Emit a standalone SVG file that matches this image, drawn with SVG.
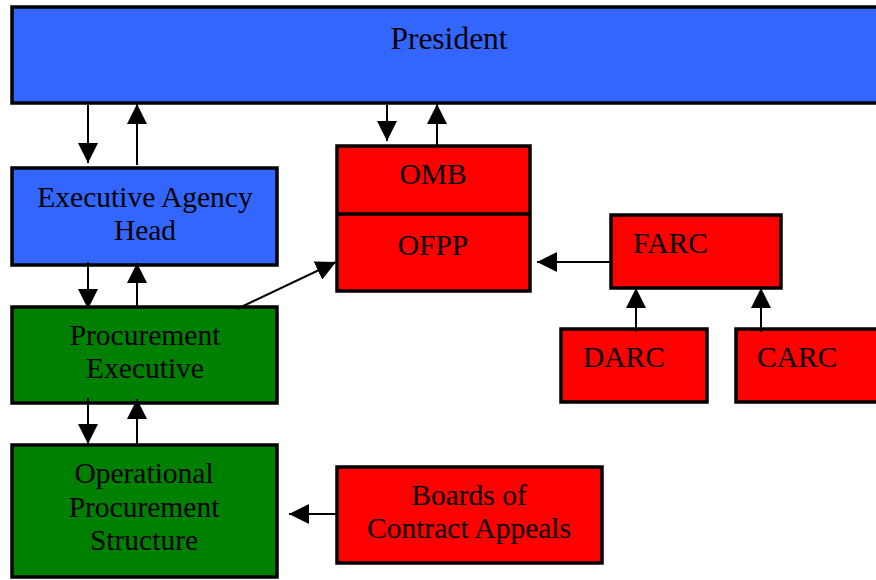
<svg xmlns="http://www.w3.org/2000/svg" width="876" height="580" viewBox="0 0 876 580">
<style>
.box{stroke:#000;stroke-width:3.5}
.blue{fill:#3366FF}
.green{fill:#008000}
.red{fill:#FF0000}
text{font-family:"Liberation Serif","Times New Roman",serif;font-size:29.5px;fill:#000}
.c{text-anchor:middle}
.con{stroke:#000;stroke-width:2;fill:none;marker-end:url(#ah)}
</style>
<defs>
<marker id="ah" markerUnits="userSpaceOnUse" markerWidth="20" markerHeight="20" viewBox="0 0 20 20" refX="20" refY="10" orient="auto">
<path d="M0,0 L20,10 L0,20 z" fill="#000"/>
</marker>
</defs>
<rect width="876" height="580" fill="#fff"/>
<g id="president">
<rect class="box blue" x="12" y="7" width="880" height="96"/>
<text class="c" x="449" y="49" style="font-size:31.5px">President</text>
</g>
<g id="exec-agency-head">
<rect class="box blue" x="12" y="168" width="265" height="97"/>
<text class="c" x="145" y="207">Executive Agency</text>
<text class="c" x="145" y="240">Head</text>
</g>
<g id="procurement-executive">
<rect class="box green" x="12" y="307" width="265" height="96"/>
<text class="c" x="145" y="345">Procurement</text>
<text class="c" x="145" y="378">Executive</text>
</g>
<g id="operational-procurement-structure">
<rect class="box green" x="12" y="445" width="265" height="132"/>
<text class="c" x="144" y="483">Operational</text>
<text class="c" x="144" y="517">Procurement</text>
<text class="c" x="144" y="550">Structure</text>
</g>
<g id="omb-ofpp">
<rect class="box red" x="337" y="146" width="193" height="145"/>
<line x1="337" y1="214" x2="530" y2="214" stroke="#000" stroke-width="3.5"/>
<text class="c" x="433" y="184">OMB</text>
<text class="c" x="433" y="255">OFPP</text>
</g>
<g id="farc">
<rect class="box red" x="611" y="215" width="170" height="73"/>
<text x="633" y="253">FARC</text>
</g>
<g id="darc">
<rect class="box red" x="561" y="329" width="146" height="73"/>
<text x="583" y="367">DARC</text>
</g>
<g id="carc">
<rect class="box red" x="736" y="329" width="150" height="73"/>
<text x="757" y="367">CARC</text>
</g>
<g id="boards">
<rect class="box red" x="337" y="467" width="265" height="96"/>
<text class="c" x="469" y="505">Boards of</text>
<text class="c" x="469" y="538">Contract Appeals</text>
</g>
<g id="connectors">
<line class="con" x1="88" y1="105" x2="88" y2="163"/>
<line class="con" x1="137" y1="165" x2="137" y2="104"/>
<line class="con" x1="88" y1="262" x2="88" y2="309"/>
<line class="con" x1="137" y1="309" x2="137" y2="263"/>
<line class="con" x1="88" y1="398" x2="88" y2="444"/>
<line class="con" x1="137" y1="445" x2="137" y2="399"/>
<line class="con" x1="387" y1="105" x2="387" y2="141"/>
<line class="con" x1="437" y1="147" x2="437" y2="104"/>
<line class="con" x1="237" y1="309" x2="336" y2="262"/>
<line class="con" x1="611" y1="262" x2="537" y2="262"/>
<line class="con" x1="636" y1="332" x2="636" y2="288"/>
<line class="con" x1="761" y1="332" x2="761" y2="288"/>
<line class="con" x1="337" y1="514" x2="289" y2="514"/>
</g>
</svg>
